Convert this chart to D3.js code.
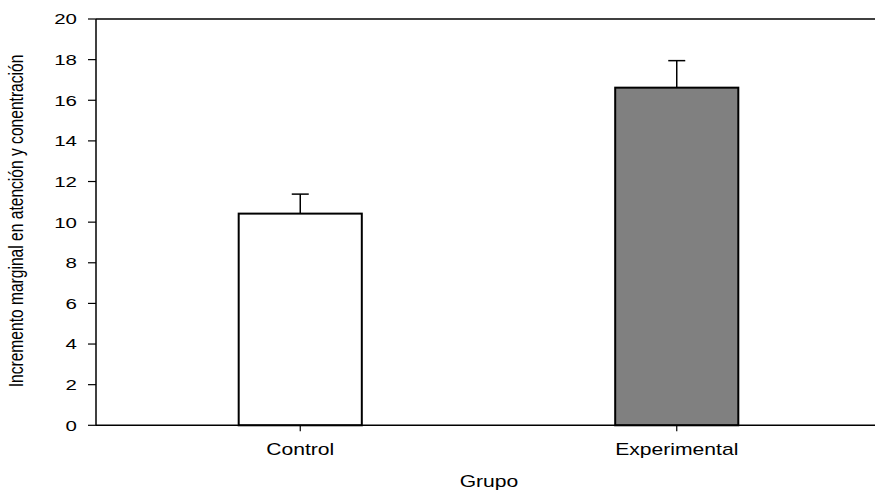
<!DOCTYPE html>
<html><head><meta charset="utf-8">
<script src="https://cdn.jsdelivr.net/npm/d3@7"></script>
<style>body{margin:0;background:#fff}svg{display:block}text{font-family:Arial,"Liberation Sans",sans-serif;fill:#000}</style>
</head><body>
<script>
const categories = ["Control", "Experimental"];
const means = [10.42, 16.62];
const errors = [0.96, 1.33];
const fills = ["#ffffff", "#808080"];
const yTicks = [0, 2, 4, 6, 8, 10, 12, 14, 16, 18, 20];
const xTitle = "Grupo";
const yTitle = "Incremento marginal en atención y conentración";

const W = 875, H = 490, SX = 1.32;
const svg = d3.select("body").append("svg").attr("width", W).attr("height", H);

const x = d3.scalePoint().domain(categories).range([96, 881]).padding(0.5425);
const step = x.step();
const bw = step * 0.327;
const y = d3.scaleLinear().domain([0, 20]).range([425.3, 19]);

// top frame line
svg.append("line").attr("x1", 96).attr("x2", W).attr("y1", y(20)).attr("y2", y(20))
  .attr("stroke", "#000").attr("stroke-width", 1.5);

// bars
categories.forEach((c, i) => {
  const cx = x(c);
  svg.append("rect").attr("x", cx - bw / 2).attr("y", y(means[i]))
    .attr("width", bw).attr("height", y(0) - y(means[i]))
    .attr("fill", fills[i]).attr("stroke", "#000").attr("stroke-width", 2);
  svg.append("line").attr("x1", cx).attr("x2", cx).attr("y1", y(means[i])).attr("y2", y(means[i] + errors[i]))
    .attr("stroke", "#000").attr("stroke-width", 1.5);
  svg.append("line").attr("x1", cx - 8.5).attr("x2", cx + 8.5)
    .attr("y1", y(means[i] + errors[i])).attr("y2", y(means[i] + errors[i]))
    .attr("stroke", "#000").attr("stroke-width", 1.5);
});

// y axis
svg.append("line").attr("x1", 96).attr("x2", 96).attr("y1", y(0)).attr("y2", y(20))
  .attr("stroke", "#000").attr("stroke-width", 1.5);
yTicks.forEach(t => {
  svg.append("line").attr("x1", 88).attr("x2", 96).attr("y1", y(t)).attr("y2", y(t))
    .attr("stroke", "#000").attr("stroke-width", 1.2);
  svg.append("text").attr("transform", `translate(77,${y(t)}) scale(${SX},1)`)
    .attr("text-anchor", "end").attr("dy", "0.35em").attr("font-size", 15.5).text(t);
});

// x axis
svg.append("line").attr("x1", 96).attr("x2", W).attr("y1", y(0)).attr("y2", y(0))
  .attr("stroke", "#000").attr("stroke-width", 1.5);
categories.forEach(c => {
  svg.append("line").attr("x1", x(c)).attr("x2", x(c)).attr("y1", y(0)).attr("y2", y(0) + 6)
    .attr("stroke", "#000").attr("stroke-width", 1.2);
  svg.append("text").attr("transform", `translate(${x(c)},455) scale(${SX},1)`)
    .attr("text-anchor", "middle").attr("font-size", 16).text(c);
});

svg.append("text").attr("transform", `translate(489,487) scale(${SX},1)`)
  .attr("text-anchor", "middle").attr("font-size", 16).text(xTitle);

svg.append("text").attr("transform", `translate(23,221) scale(${SX},1) rotate(-90)`)
  .attr("text-anchor", "middle").attr("font-size", 15.6).text(yTitle);
</script>
</body></html>
